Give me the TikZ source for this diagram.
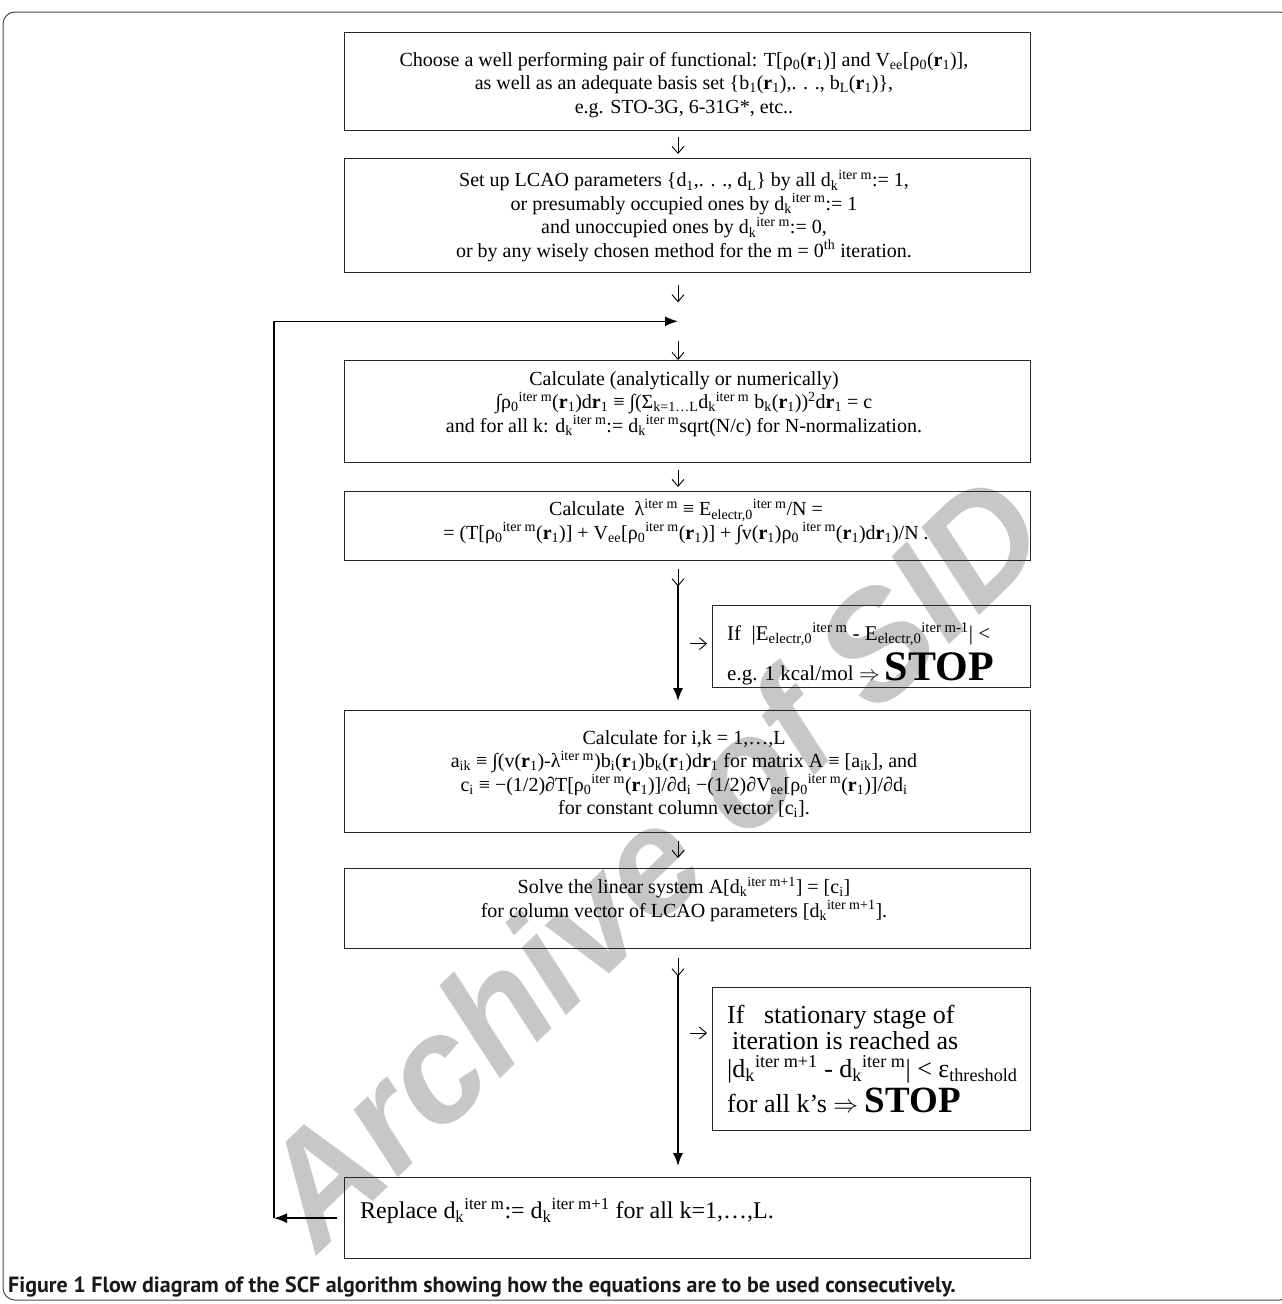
\documentclass[tikz,border=0pt]{standalone}
\usepackage{fontspec}
\setmainfont{Liberation Serif}
\newfontfamily\capfont{PT Sans}
\newfontfamily\wmfont{Liberation Sans}
\usetikzlibrary{arrows.meta,calc}
\newcommand\sbs[1]{\textsubscript{#1}}
\newcommand\sps[1]{\textsuperscript{#1}}
\newcommand\rb{\textbf{r}}
\newcommand\itm{\textsuperscript{iter m}}
\newcommand\itp{\textsuperscript{iter m+1}}
\begin{document}
\begin{tikzpicture}[x=1pt,y=-1pt,
  boxst/.style={draw=black!85, line width=1.3pt, inner sep=0pt, anchor=north west},
  txt/.style={align=center, inner sep=0pt, font=\fontsize{20}{23.5}\selectfont},
  stoptxt/.style={anchor=base west, inner sep=0pt},
  glyph/.style={line width=0.9pt, -{Straight Barb[length=7pt,width=12pt]}},
  flow/.style={line width=1.6pt, -{Latex[length=13pt,width=10pt]}}]
\useasboundingbox (0,0) rectangle (1282,1304);
% watermark
\node[font=\wmfont\bfseries\itshape\fontsize{150}{150}\selectfont, text=black!22, rotate=44, inner sep=0pt] (wm) at (650,860) {Archive of SID};
% outer frame
\draw[rounded corners=12pt, line width=1pt, draw=black!70] (3,12) rectangle (1292,1300);
\coordinate (cx) at (678,0);
% boxes
\node[boxst, minimum width=686pt, minimum height=98pt] (b1) at (344,32) {};
\node[boxst, minimum width=686pt, minimum height=114pt] (b2) at (344,158) {};
\node[boxst, minimum width=686pt, minimum height=102pt] (b3) at (344,360) {};
\node[boxst, minimum width=686pt, minimum height=69pt] (b4) at (344,491) {};
\node[boxst, minimum width=318pt, minimum height=82pt] (s1) at (712,605) {};
\node[boxst, minimum width=686pt, minimum height=122pt] (b5) at (344,710) {};
\node[boxst, minimum width=686pt, minimum height=80pt] (b6) at (344,868) {};
\node[boxst, minimum width=318pt, minimum height=143pt] (s2) at (712,987) {};
\node[boxst, minimum width=686pt, minimum height=81pt] (b7) at (344,1177) {};
% texts
\node[txt] (t1) at (684,85) {Choose a well performing pair of functional: T[ρ\sbs{0}(\rb\sbs{1})] and V\sbs{ee}[ρ\sbs{0}(\rb\sbs{1})],\\
as well as an adequate basis set \{b\sbs{1}(\rb\sbs{1}),. . ., b\sbs{L}(\rb\sbs{1})\},\\
e.g. STO-3G, 6-31G*, etc..};
\node[txt] (t2) at (684,216) {Set up LCAO parameters \{d\sbs{1},. . ., d\sbs{L}\} by all d\sbs{k}\itm:= 1,\\
or presumably occupied ones by d\sbs{k}\itm:= 1\\
and unoccupied ones by d\sbs{k}\itm:= 0,\\
or by any wisely chosen method for the m = 0\sps{th} iteration.};
\node[txt] (t3) at (684,404) {Calculate (analytically or numerically)\\
∫ρ\sbs{0}\itm(\rb\sbs{1})d\rb\sbs{1} ≡ ∫(Σ\sbs{k=1…L}d\sbs{k}\itm\ b\sbs{k}(\rb\sbs{1}))\sps{2}d\rb\sbs{1} = c\\
and for all k: d\sbs{k}\itm:= d\sbs{k}\itm sqrt(N/c) for N-normalization.};
\node[txt] (t4) at (686,522) {Calculate\ \ λ\itm\ ≡ E\sbs{electr,0}\itm/N =\\
= (T[ρ\sbs{0}\itm(\rb\sbs{1})] + V\sbs{ee}[ρ\sbs{0}\itm(\rb\sbs{1})] + ∫v(\rb\sbs{1})ρ\sbs{0}\,\itm(\rb\sbs{1})d\rb\sbs{1})/N .};
\node[stoptxt, font=\fontsize{21}{24}\selectfont] (u1a) at (727,640) {If\ \ |E\sbs{electr,0}\itm\ - E\sbs{electr,0}\sps{iter m-1}| <};
\node[stoptxt, font=\fontsize{21}{24}\selectfont] (u1b) at (727,680) {e.g. 1 kcal/mol $\Rightarrow$ {\fontsize{42}{42}\selectfont\bfseries STOP}};
\node[txt] (t5) at (684,774) {Calculate for i,k = 1,…,L\\
a\sbs{ik} ≡ ∫(v(\rb\sbs{1})-λ\itm)b\sbs{i}(\rb\sbs{1})b\sbs{k}(\rb\sbs{1})d\rb\sbs{1} for matrix A ≡ [a\sbs{ik}], and\\
c\sbs{i} ≡ −(1/2)∂T[ρ\sbs{0}\itm(\rb\sbs{1})]/∂d\sbs{i} −(1/2)∂V\sbs{ee}[ρ\sbs{0}\itm(\rb\sbs{1})]/∂d\sbs{i}\\
for constant column vector [c\sbs{i}].};
\node[txt] (t6) at (684,899) {Solve the linear system A[d\sbs{k}\itp] = [c\sbs{i}]\\
for column vector of LCAO parameters [d\sbs{k}\itp].};
\node[stoptxt, font=\fontsize{26}{28}\selectfont] (u2a) at (727,1023) {If\ \ \ stationary stage of};
\node[stoptxt, font=\fontsize{26}{28}\selectfont] (u2b) at (732,1049) {iteration is reached as};
\node[stoptxt, font=\fontsize{26}{28}\selectfont] (u2c) at (727,1077) {|d\sbs{k}\itp\ - d\sbs{k}\itm| < ε\sbs{threshold}};
\node[stoptxt, font=\fontsize{26}{28}\selectfont] (u2d) at (727,1112) {for all k’s $\Rightarrow$ {\fontsize{37}{37}\selectfont\bfseries STOP}};
\node[txt, anchor=west, font=\fontsize{24}{28}\selectfont] (t7) at (360,1211) {Replace d\sbs{k}\itm:= d\sbs{k}\itp\ for all k=1,…,L.};
% caption
\node[anchor=base west, inner sep=0pt, font=\capfont\bfseries\fontsize{22}{24}\selectfont, text=black!90] (cap) at (8,1292) {Figure 1 Flow diagram of the SCF algorithm showing how the equations are to be used consecutively.};
% connectors
\coordinate (loop) at ($(b2.south -| cx)+(0,48)$);
\coordinate (corner) at ($(b7.west)+(-70,0)$);
\draw[glyph] ($(b1.south -| cx)+(0,6)$) -- ($(b2.north -| cx)+(0,-4)$);
\draw[glyph] ($(b2.south -| cx)+(0,12)$) -- ($(b2.south -| cx)+(0,29)$);
\draw[glyph] ($(loop)+(0,20)$) -- (b3.north -| cx);
\draw[glyph] ($(b3.south -| cx)+(0,7)$) -- ($(b4.north -| cx)+(0,-4)$);
\draw[glyph] ($(b4.south -| cx)+(0,8)$) -- ($(b4.south -| cx)+(0,25)$);
\draw[flow] ($(b4.south -| cx)+(0,24)$) -- ($(b5.north -| cx)+(0,-9)$);
\draw[glyph] ($(s1.west -| cx)+(12,-3)$) -- ($(s1.west)+(-5,-3)$);
\draw[glyph] ($(b5.south -| cx)+(0,8)$) -- ($(b6.north -| cx)+(0,-10)$);
\draw[glyph] ($(b6.south -| cx)+(0,9)$) -- ($(b6.south -| cx)+(0,27)$);
\draw[flow] ($(b6.south -| cx)+(0,26)$) -- ($(b7.north -| cx)+(0,-11)$);
\draw[glyph] ($(s2.north west -| cx)+(12,46)$) -- ($(s2.north west)+(-5,46)$);
\draw[flow] ($(b7.west)+(-7,0)$) -- (corner);
\draw[flow] (corner) |- (loop);
\end{tikzpicture}
\end{document}
